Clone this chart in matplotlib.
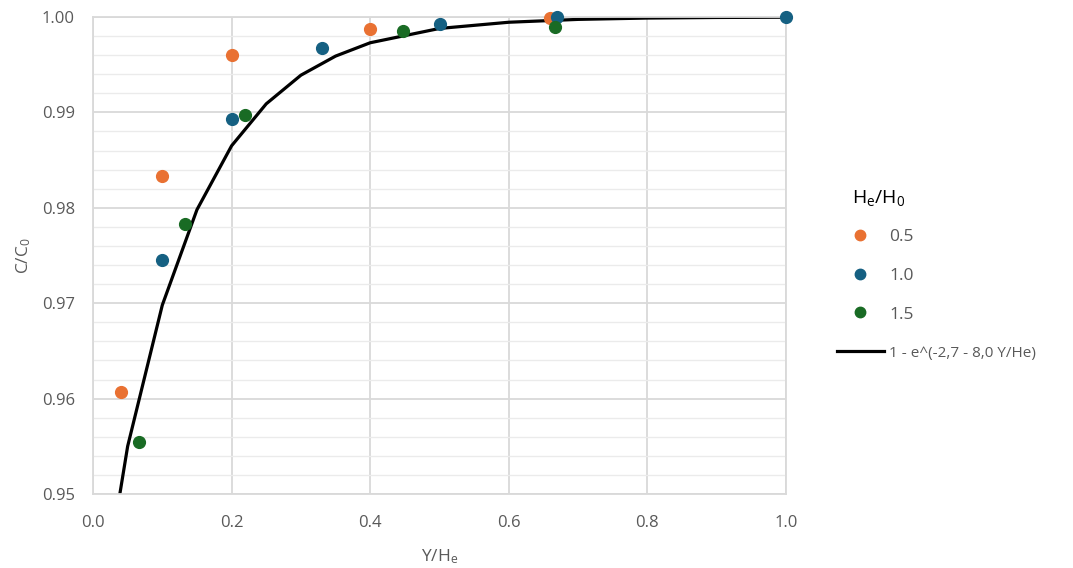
import matplotlib
matplotlib.use("Agg")
import matplotlib.pyplot as plt
from matplotlib.ticker import MultipleLocator, FormatStrFormatter
from matplotlib.lines import Line2D

# ====== Data ====== #
X_05 = [0.04, 0.10, 0.20, 0.40, 0.66]
Y_05 = [0.9607, 0.9833, 0.9960, 0.9987, 0.9999]

X_10 = [0.10, 0.20, 0.33, 0.50, 0.67, 1.00]
Y_10 = [0.9745, 0.9893, 0.9967, 0.9993, 0.99997, 1.0]

X_15 = [0.067, 0.133, 0.22, 0.447, 0.667]
Y_15 = [0.9555, 0.9783, 0.9897, 0.9985, 0.9989]

FIT_X = [0.0, 0.05, 0.10, 0.15, 0.20, 0.25, 0.30, 0.35, 0.40, 0.50, 0.60, 0.70, 0.80, 0.90, 1.00]
FIT_Y = [0.9328, 0.9550, 0.9698, 0.9798, 0.9865, 0.9909, 0.9939, 0.9959, 0.9973,
         0.9988, 0.99945, 0.99975, 0.99989, 0.99995, 0.99998]

SERIES_LABELS = ["0.5", "1.0", "1.5"]
FIT_LABEL = "1 - e^(-2,7 - 8,0 Y/He)"

# ====== Style ====== #
ORANGE = "#E97132"
BLUE = "#156082"
GREEN = "#196B24"
GRID = "#D9D9D9"
MINOR_GRID = "#EBEBEB"
TEXT = "#595959"

plt.rcParams["font.family"] = ["Open Sans", "DejaVu Sans"]
plt.rcParams["mathtext.default"] = "regular"

fig = plt.figure(figsize=(10.73, 5.68), dpi=100)
ax = fig.add_axes([93 / 1073, 1 - 494 / 568, (786 - 93) / 1073, (494 - 17) / 568])

ax.set_xlim(0, 1.0)
ax.set_ylim(0.95, 1.0)
ax.xaxis.set_major_locator(MultipleLocator(0.2))
ax.yaxis.set_major_locator(MultipleLocator(0.01))
ax.yaxis.set_minor_locator(MultipleLocator(0.002))
ax.xaxis.set_major_formatter(FormatStrFormatter("%.1f"))
ax.yaxis.set_major_formatter(FormatStrFormatter("%.2f"))

ax.grid(which="major", color=GRID, lw=1.3)
ax.grid(which="minor", axis="y", color=MINOR_GRID, lw=1.0)
ax.set_axisbelow(True)
for s in ax.spines.values():
    s.set_color(GRID)
    s.set_linewidth(1.3)
ax.tick_params(which="both", length=0, colors=TEXT, labelsize=12)
ax.tick_params(axis="x", pad=15)
ax.tick_params(axis="y", pad=13)

ax.plot(FIT_X, FIT_Y, color="black", lw=2.3, zorder=2)
ax.scatter(X_05, Y_05, s=72, color=ORANGE, zorder=3, clip_on=False)
ax.scatter(X_10, Y_10, s=72, color=BLUE, zorder=3, clip_on=False)
ax.scatter(X_15, Y_15, s=72, color=GREEN, zorder=3, clip_on=False)

ax.set_xlabel("Y/H$_e$", color=TEXT, fontsize=12.5, labelpad=12)
ax.set_ylabel("C/C$_0$", color=TEXT, fontsize=12.5, labelpad=6)

# ====== Legend ====== #
handles = [
    Line2D([], [], ls="none", marker="o", ms=7.5, color=ORANGE),
    Line2D([], [], ls="none", marker="o", ms=7.5, color=BLUE),
    Line2D([], [], ls="none", marker="o", ms=7.5, color=GREEN),
    Line2D([], [], color="black", lw=2.3),
]
leg = fig.legend(handles, SERIES_LABELS + [FIT_LABEL], loc="upper left",
                 bbox_to_anchor=(830 / 1073, 1 - 222 / 568), frameon=False,
                 fontsize=12.5, handlelength=2.7, handletextpad=0.3,
                 labelspacing=1.3, borderaxespad=0)
for t in leg.get_texts():
    t.set_color(TEXT)
leg.get_texts()[-1].set_fontsize(11)

fig.text(852 / 1073, 1 - 198 / 568, "H$_e$/H$_0$", fontsize=14, color="black",
         va="center", ha="left")

fig.savefig("out.png", dpi=100)
